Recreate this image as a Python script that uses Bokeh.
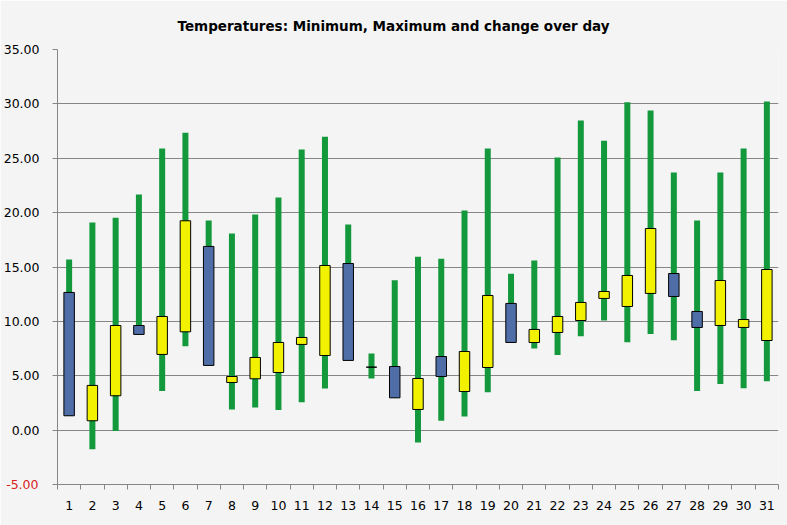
from bokeh.plotting import figure
from bokeh.models import (ColumnDataSource, FixedTicker, NumeralTickFormatter,
                          Range1d, LinearAxis)
from bokeh.embed import file_html
from bokeh.resources import INLINE

days = list(range(1, 32))
low = [1.30, -1.75, -0.09, 8.80, 3.59, 7.72, 5.95, 1.90, 2.08, 1.84, 2.57,
       3.83, 6.41, 4.75, 2.97, -1.13, 0.86, 1.26, 3.49, 8.06, 7.51, 6.90,
       8.64, 10.08, 8.09, 8.83, 8.27, 3.59, 4.23, 3.86, 4.50]
high = [15.69, 19.09, 19.52, 21.67, 25.90, 27.34, 19.28, 18.08, 19.83, 21.39,
        25.80, 26.97, 18.91, 7.05, 13.79, 15.94, 15.75, 20.20, 25.90, 14.37,
        15.60, 25.07, 28.47, 26.60, 30.16, 29.39, 23.69, 19.28, 23.69, 25.90,
        30.22]
open_t = [12.66, 0.86, 3.16, 9.62, 6.96, 9.04, 16.89, 4.38, 4.72, 5.30, 7.88,
          6.86, 15.32, 5.79, 5.85, 1.90, 6.77, 3.55, 5.76, 11.65, 8.06, 8.98,
          10.08, 12.11, 11.37, 12.57, 14.40, 10.91, 9.62, 9.44, 8.24]
close_t = [1.32, 4.11, 9.62, 8.80, 10.45, 19.25, 5.95, 4.93, 6.68, 8.06, 8.52,
           15.14, 6.41, 5.79, 2.97, 4.75, 4.93, 7.23, 12.38, 8.06, 9.26, 10.45,
           11.74, 12.75, 14.22, 18.54, 12.29, 9.44, 13.76, 10.17, 14.77]
y_ticks = [-5, 0, 5, 10, 15, 20, 25, 30, 35]

GREEN = "#13993c"
BLUE = "#4f6ea8"
YELLOW = "#f2f200"
BG = "#f4f4f4"
GRID = "#868686"
RED = "#d81e1e"
FONT = "DejaVu Sans"

colors = []
for o, c in zip(open_t, close_t):
    if c > o:
        colors.append(YELLOW)
    elif c < o:
        colors.append(BLUE)
    else:
        colors.append("black")

src = ColumnDataSource(dict(
    day=days, low=low, high=high,
    top=[max(o, c) for o, c in zip(open_t, close_t)],
    bottom=[min(o, c) for o, c in zip(open_t, close_t)],
    color=colors,
))

p = figure(width=787, height=525, output_backend="svg", toolbar_location=None,
           x_range=Range1d(0.5, 31.5), y_range=Range1d(-5, 35),
           title="Temperatures: Minimum, Maximum and change over day",
           min_border_left=57, min_border_right=9, min_border_top=49,
           min_border_bottom=41)

p.background_fill_color = BG
p.border_fill_color = BG
p.outline_line_color = None

p.title.align = "left"
p.title.vertical_align = "top"
p.title.offset = 120
p.title.standoff = 28
p.title.text_font = FONT
p.title.text_font_size = "13.5px"
p.title.text_font_style = "bold"
p.title.text_color = "black"

p.segment(x0="day", y0="low", x1="day", y1="high", source=src,
          line_color=GREEN, line_width=6)
p.vbar(x="day", width=0.45, top="top", bottom="bottom", source=src,
       fill_color="color", line_color="black", line_width=1)

# x axis: labels at day centres, ticks at day boundaries
p.xaxis.ticker = FixedTicker(ticks=days, minor_ticks=[d - 0.5 for d in days] + [31.5])
p.xaxis.major_tick_out = 0
p.xaxis.major_tick_in = 0
p.xaxis.minor_tick_out = 5
p.xaxis.minor_tick_in = 0
p.xaxis.minor_tick_line_color = GRID
p.xaxis.axis_line_color = GRID
p.xaxis.major_label_standoff = 11
p.xaxis.major_label_text_font = FONT
p.xaxis.major_label_text_font_size = "12.5px"
p.xaxis.major_label_text_color = "black"

# inner y axis: line, all ticks, black labels for non-negative values
yin = p.yaxis[0]
yin.ticker = FixedTicker(ticks=y_ticks, minor_ticks=[])
yin.formatter = NumeralTickFormatter(format="0.00")
yin.major_label_overrides = {t: " " for t in y_ticks if t < 0}
yin.major_tick_out = 5
yin.major_tick_in = 0
yin.major_tick_line_color = GRID
yin.axis_line_color = GRID
yin.major_label_standoff = 13
yin.major_label_text_font = FONT
yin.major_label_text_font_size = "12.5px"
yin.major_label_text_color = "black"

# outer y axis: red label for negative values, shifted onto the inner axis
yout = LinearAxis(ticker=FixedTicker(ticks=[t for t in y_ticks if t < 0], minor_ticks=[]),
                  formatter=NumeralTickFormatter(format="0.00"))
yout.axis_line_color = None
yout.major_tick_line_color = None
yout.minor_tick_line_color = None
yout.major_tick_out = 0
yout.major_tick_in = 0
yout.major_label_standoff = -38
yout.major_label_text_font = FONT
yout.major_label_text_font_size = "12.5px"
yout.major_label_text_color = RED
p.add_layout(yout, "left")

p.xgrid.grid_line_color = None
p.ygrid.grid_line_color = GRID
p.ygrid.grid_line_width = 1

open("out.html", "w").write(file_html(p, INLINE))
